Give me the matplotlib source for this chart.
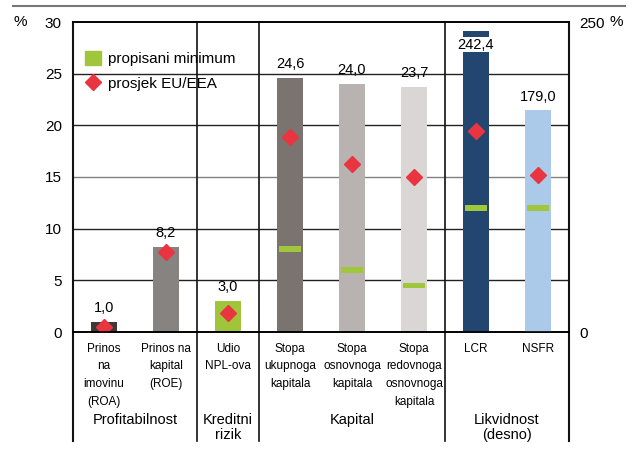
import matplotlib
matplotlib.use("Agg")
import matplotlib.pyplot as plt
import matplotlib.patches as mpatches
from matplotlib.lines import Line2D
import matplotlib.transforms as mtransforms

plt.rcParams["font.family"] = ["Liberation Sans", "DejaVu Sans"]

# ---------------------------------------------------------------------------
# Data
# ---------------------------------------------------------------------------
categories = ["Prinos\nna\nimovinu\n(ROA)", "Prinos na\nkapital\n(ROE)",
              "Udio\nNPL-ova", "Stopa\nukupnoga\nkapitala",
              "Stopa\nosnovnoga\nkapitala", "Stopa\nredovnoga\nosnovnoga\nkapitala",
              "LCR", "NSFR"]
values_left = [1.0, 8.2, 3.0, 24.6, 24.0, 23.7]       # %, left axis
values_right = [242.4, 179.0]                          # %, right axis
eu_left = [0.5, 7.7, 1.8, 18.9, 16.3, 15.0]
eu_right = [162.5, 127.0]
min_left = {3: 8.0, 4: 6.0, 5: 4.5}
min_right = [100.0, 100.0]
labels_left = ["1,0", "8,2", "3,0", "24,6", "24,0", "23,7"]
labels_right = ["242,4", "179,0"]
groups = [("Profitabilnost", 0.5), ("Kreditni\nrizik", 2), ("Kapital", 4),
          ("Likvidnost\n(desno)", 6.5)]

BAR_COLORS = ["#3c3937", "#878380", "#a0c43a", "#7b7370",
              "#b8b3b0", "#dad6d5", "#22466f", "#abc9e9"]
GREEN = "#a0c63b"
RED = "#e8353f"

# ---------------------------------------------------------------------------
# Figure
# ---------------------------------------------------------------------------
fig = plt.figure(figsize=(6.35, 4.49), dpi=100)
ax = fig.add_axes([73 / 635, 117 / 449, 496 / 635, 310 / 449])
ax2 = ax.twinx()

BW = 0.42
xl = list(range(len(values_left)))
xr = [6, 7]

ax.bar(xl, values_left, width=BW, color=BAR_COLORS[:6], zorder=2)
ax2.bar(xr, values_right, width=BW, color=BAR_COLORS[6:], zorder=2)

# minimums (green dashes)
for x, v in min_left.items():
    ax.bar(x, 0.58, bottom=v - 0.29, width=0.34, color=GREEN, zorder=3)
for x, v in zip(xr, min_right):
    ax2.bar(x, 4.8, bottom=v - 2.4, width=0.34, color=GREEN, zorder=3)

# EU/EEA averages
ax.plot(xl, eu_left, ls="none", marker="D", ms=8.5, color=RED, zorder=4)
ax2.plot(xr, eu_right, ls="none", marker="D", ms=8.5, color=RED, zorder=4)

# value labels
for x, v, s in zip(xl, values_left, labels_left):
    ax.annotate(s, (x, v), xytext=(0, 10), textcoords="offset points",
                ha="center", va="center", fontsize=10.5)
ax2.annotate(labels_right[0], (6, values_right[0]), xytext=(0, -9.5),
             textcoords="offset points", ha="center", va="center", fontsize=10.5,
             bbox=dict(facecolor="white", edgecolor="none", pad=0.3), zorder=5)
ax2.annotate(labels_right[1], (7, values_right[1]), xytext=(0, 9.5),
             textcoords="offset points", ha="center", va="center", fontsize=10.5)

ax.set_xlim(-0.5, 7.5)
ax.set_ylim(0, 30)
ax2.set_ylim(0, 250)
ax.set_yticks(range(0, 31, 5))
ax2.set_yticks([0, 250])
ax.set_xticks([])
ax.tick_params(axis="y", length=0, labelsize=11, pad=8)
ax2.tick_params(axis="y", length=0, labelsize=11, pad=7.5)

# grid
for g in range(5, 30, 5):
    ax.axhline(g, color="#808080" if g == 15 else "#222222", lw=1, zorder=0.5)

for a in (ax, ax2):
    for sp in ("left", "right"):
        a.spines[sp].set_visible(False)
    a.spines["top"].set_linewidth(1.2)
    a.spines["bottom"].set_linewidth(1.2)

# vertical separators, extended below the plot
for x in (-0.5, 1.5, 2.5, 5.5, 7.5):
    ax.axvline(x, ymin=-0.35, ymax=1, color="#111111",
               lw=1.5 if x in (-0.5, 7.5) else 1.2, clip_on=False, zorder=1)

# category and group labels
trans = mtransforms.blended_transform_factory(ax.transData, ax.transAxes)
for i, c in enumerate(categories):
    ax.text(i, -0.035, c, transform=trans, ha="center", va="top",
            fontsize=8.5, linespacing=1.62)
for g, x in groups:
    ax.text(x, -0.262, g, transform=trans, ha="center", va="top",
            fontsize=10.5, linespacing=1.05)

# units
fig.text(20 / 635, 1 - 22 / 449, "%", ha="center", va="center", fontsize=11)
fig.text(616 / 635, 1 - 22 / 449, "%", ha="center", va="center", fontsize=11)

# top rule
fig.add_artist(Line2D([13 / 635, 625 / 635], [1 - 6 / 449, 1 - 6 / 449],
                      color="#777777", lw=1.5))

handles = [mpatches.Patch(color=GREEN, label="propisani minimum"),
           Line2D([], [], ls="none", marker="D", ms=8.5, color=RED,
                  label="prosjek EU/EEA")]
leg = ax.legend(handles=handles, loc="upper left", bbox_to_anchor=(0.0, 0.945),
                frameon=False, fontsize=11, handlelength=1.0, handleheight=1.0,
                handletextpad=0.5, labelspacing=0.6, borderaxespad=0.4)
leg.set_zorder(6)

fig.savefig("out.png", dpi=100)
